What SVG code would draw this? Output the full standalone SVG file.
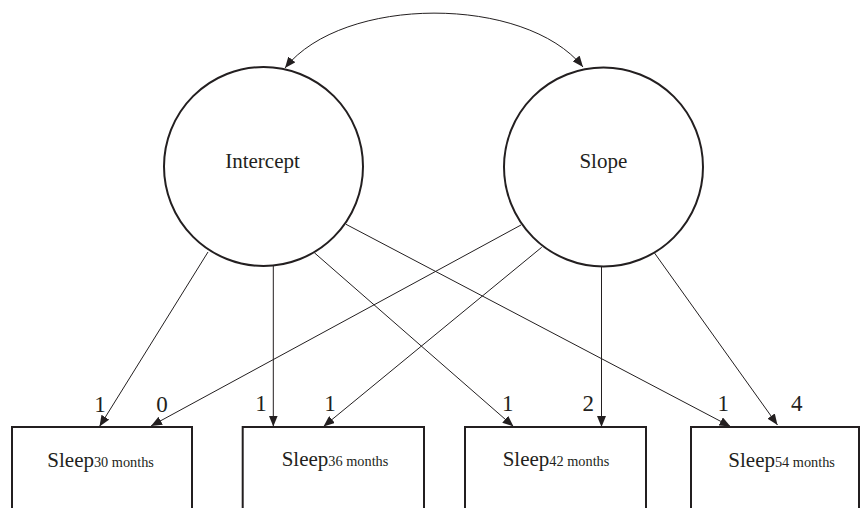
<svg xmlns="http://www.w3.org/2000/svg" width="861" height="508" viewBox="0 0 861 508">
<style>
.node{fill:#fff;stroke:#231f20;stroke-width:2}
.edge{fill:none;stroke:#231f20;stroke-width:1;marker-end:url(#ah)}
text{font-family:'Liberation Serif','Times New Roman',Times,serif;fill:#231f20}
.name{font-size:21px;text-anchor:middle}
.coef{font-size:23px;text-anchor:middle}
.box{font-size:21px}
.sub{font-size:14.3px}
</style>
<defs>
<marker id="ah" markerUnits="userSpaceOnUse" markerWidth="11" markerHeight="9" refX="11" refY="4.5" orient="auto-start-reverse">
<path d="M0,0 L11,4.5 L0,9 z" fill="#231f20"/>
</marker>
</defs>
<rect width="861" height="508" fill="#fff"/>
<g id="connectors">
<path class="edge" style="marker-start:url(#ah)" d="M285,68 C343,-5 525,-5 583,67"/>
<line class="edge" x1="208" y1="252" x2="99.5" y2="426.5"/>
<line class="edge" x1="521" y1="225" x2="151" y2="426"/>
<line class="edge" x1="273.3" y1="266" x2="273.3" y2="426.5"/>
<line class="edge" x1="541.7" y1="247.3" x2="323.5" y2="426.5"/>
<line class="edge" x1="314.3" y1="252.7" x2="513.5" y2="426.5"/>
<line class="edge" x1="601.5" y1="266.5" x2="601.5" y2="427"/>
<line class="edge" x1="346" y1="224.3" x2="730.5" y2="426.5"/>
<line class="edge" x1="654.3" y1="252.7" x2="777.5" y2="425"/>
</g>
<g id="intercept">
<circle class="node" cx="263.5" cy="166.5" r="99.5"/>
<text class="name" x="262.5" y="168.3" font-family="Liberation Serif, serif">Intercept</text>
</g>
<g id="slope">
<circle class="node" cx="603.5" cy="167" r="99.5"/>
<text class="name" x="603.3" y="168.3" font-family="Liberation Serif, serif">Slope</text>
</g>
<g id="sleep30">
<rect class="node" x="12" y="427" width="180" height="100"/>
<text class="box" x="47.3" y="466.5">Sleep<tspan class="sub">30 months</tspan></text>
</g>
<g id="sleep36">
<rect class="node" x="242.7" y="427" width="181.3" height="100"/>
<text class="box" x="281.7" y="466">Sleep<tspan class="sub">36 months</tspan></text>
</g>
<g id="sleep42">
<rect class="node" x="465" y="427" width="181" height="100"/>
<text class="box" x="502.7" y="465.5">Sleep<tspan class="sub">42 months</tspan></text>
</g>
<g id="sleep54">
<rect class="node" x="691" y="427" width="168" height="100"/>
<text class="box" x="728.3" y="467">Sleep<tspan class="sub">54 months</tspan></text>
</g>
<g id="coefficients">
<text class="coef" x="100" y="411.5">1</text>
<text class="coef" x="162" y="411.5">0</text>
<text class="coef" x="261" y="411">1</text>
<text class="coef" x="330" y="411">1</text>
<text class="coef" x="507.7" y="411">1</text>
<text class="coef" x="588.3" y="411">2</text>
<text class="coef" x="723.3" y="411">1</text>
<text class="coef" x="796.7" y="411">4</text>
</g>
</svg>
